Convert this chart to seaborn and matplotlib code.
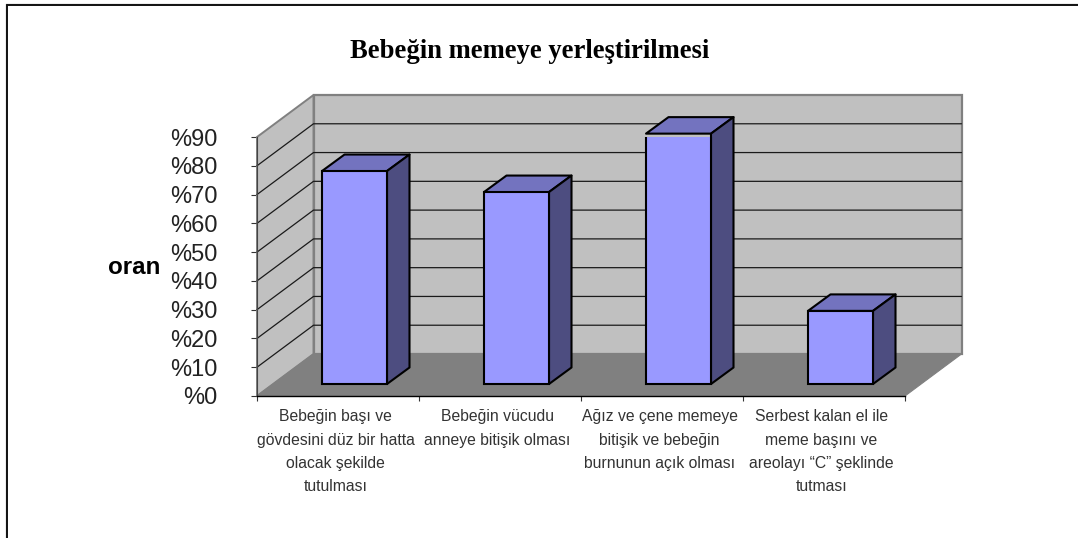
import seaborn as sns
import matplotlib.pyplot as plt
from matplotlib.lines import Line2D
from matplotlib.patches import Polygon
from matplotlib.transforms import ScaledTranslation

kategoriler = [
    "Bebeğin başı ve\ngövdesini düz bir hatta\nolacak şekilde\ntutulması",
    "Bebeğin vücudu\nanneye bitişik olması",
    "Ağız ve çene memeye\nbitişik ve bebeğin\nburnunun açık olması",
    "Serbest kalan el ile\nmeme başını ve\nareolayı “C” şeklinde\ntutması",
]
oranlar = [74, 66.7, 87, 25.4]
y_ticks = [0, 10, 20, 30, 40, 50, 60, 70, 80, 90]
y_etiketler = ["%0", "%10", "%20", "%30", "%40", "%50", "%60", "%70", "%80", "%90"]

W, H = 1078, 538
sns.set_style("white")
plt.rcParams["font.family"] = ["Liberation Sans", "DejaVu Sans"]

fig = plt.figure(figsize=(W / 100, H / 100), dpi=100, facecolor="white")
ax = fig.add_axes([257 / W, (H - 396) / H, 648 / W, 259 / H])
ax.patch.set_visible(False)

sns.barplot(x=kategoriler, y=oranlar, color="#9999ff", saturation=1, width=65 / 162,
            edgecolor="black", linewidth=1.5, ax=ax, zorder=5)
ax.set_xlim(-0.5, 3.5)
ax.set_ylim(0, 90)

# pixel sizes of the fake 3d, turned into data units
px = 4 / 648
py = 90 / 259
dx, dy = 56.5 * px, 42 * py      # depth of the whole box
bx, by = 22.5 * px, 16.5 * py    # depth of a bar
kayma, taban = 16.5 * px, 12 * py  # where bars stand on the floor

x0, x1 = ax.get_xlim()
duvar = dict(clip_on=False, zorder=1)
ax.add_patch(Polygon([(x0 + dx, dy), (x1 + dx, dy), (x1 + dx, 90 + dy), (x0 + dx, 90 + dy)],
                     facecolor="#c0c0c0", edgecolor="#808080", linewidth=1.6, **duvar))
ax.add_patch(Polygon([(x0, 0), (x0 + dx, dy), (x0 + dx, 90 + dy), (x0, 90)],
                     facecolor="#c0c0c0", edgecolor="#808080", linewidth=1.4, **duvar))
ax.add_patch(Polygon([(x0, 0), (x1, 0), (x1 + dx, dy), (x0 + dx, dy)],
                     facecolor="#808080", edgecolor="#808080", linewidth=0.8, **duvar))
for t in y_ticks[1:-1]:
    ax.plot([x0, x0 + dx, x1 + dx], [t, t + dy, t + dy], color="#1a1a1a", lw=0.9,
            clip_on=False, zorder=2)

for bar in ax.patches:
    if bar.get_zorder() != 5:
        continue
    bar.set_x(bar.get_x() + kayma)
    bar.set_y(taban)
    sol, sag = bar.get_x(), bar.get_x() + bar.get_width()
    alt, ust = bar.get_y(), bar.get_y() + bar.get_height()
    ax.add_patch(Polygon([(sol, ust), (sag, ust), (sag + bx, ust + by), (sol + bx, ust + by)],
                         facecolor="#7373bf", edgecolor="black", linewidth=1.5,
                         joinstyle="round", clip_on=False, zorder=4))
    ax.add_patch(Polygon([(sag, alt), (sag + bx, alt + by), (sag + bx, ust + by), (sag, ust)],
                         facecolor="#4d4d80", edgecolor="black", linewidth=1.5,
                         joinstyle="round", clip_on=False, zorder=4))

ax.set_yticks(y_ticks)
ax.set_yticklabels(y_etiketler, fontsize=17, color="#222222")
ax.set_xticks(range(len(kategoriler)))
ax.set_xticklabels(kategoriler, fontsize=11.3, color="#333333", linespacing=1.7, va="top")
ax.set_xticks([-0.5, 0.5, 1.5, 2.5, 3.5], minor=True)
ax.tick_params(axis="y", length=4.5, width=0.8, color="#333333", pad=24, left=True)
ax.tick_params(axis="x", which="major", length=0, pad=9.5)
ax.tick_params(axis="x", which="minor", length=3.5, width=0.8, color="#333333", bottom=True)

# labels sit a little left of the category centres
sola = ScaledTranslation(-2.5 / 100, 0, fig.dpi_scale_trans)
for etiket in ax.get_xticklabels():
    etiket.set_transform(etiket.get_transform() + sola)

for ad in ["top", "right"]:
    ax.spines[ad].set_visible(False)
ax.spines["bottom"].set_color("black")
ax.spines["bottom"].set_linewidth(1.0)
ax.spines["left"].set_color("#444444")
ax.spines["left"].set_linewidth(0.8)

fig.text(530 / W, 1 - 52 / H, "Bebeğin memeye yerleştirilmesi", fontsize=19.2, fontweight="bold",
         family=["Liberation Serif", "DejaVu Serif"], ha="center", va="center", color="black")
fig.text(134 / W, 1 - 268 / H, "oran", fontsize=17.4, fontweight="bold", ha="center", va="center",
         color="black")

# picture frame, open on the right and at the bottom
for renk, lw, k in [("#aaaaaa", 1.0, 3.5), ("#111111", 1.4, 5)]:
    fig.add_artist(Line2D([k / W + 2 / W, 1], [1 - k / H, 1 - k / H], color=renk, lw=lw))
    fig.add_artist(Line2D([(k + 2) / W, (k + 2) / W], [0, 1 - k / H], color=renk, lw=lw))

fig.savefig("out.png", dpi=100)
